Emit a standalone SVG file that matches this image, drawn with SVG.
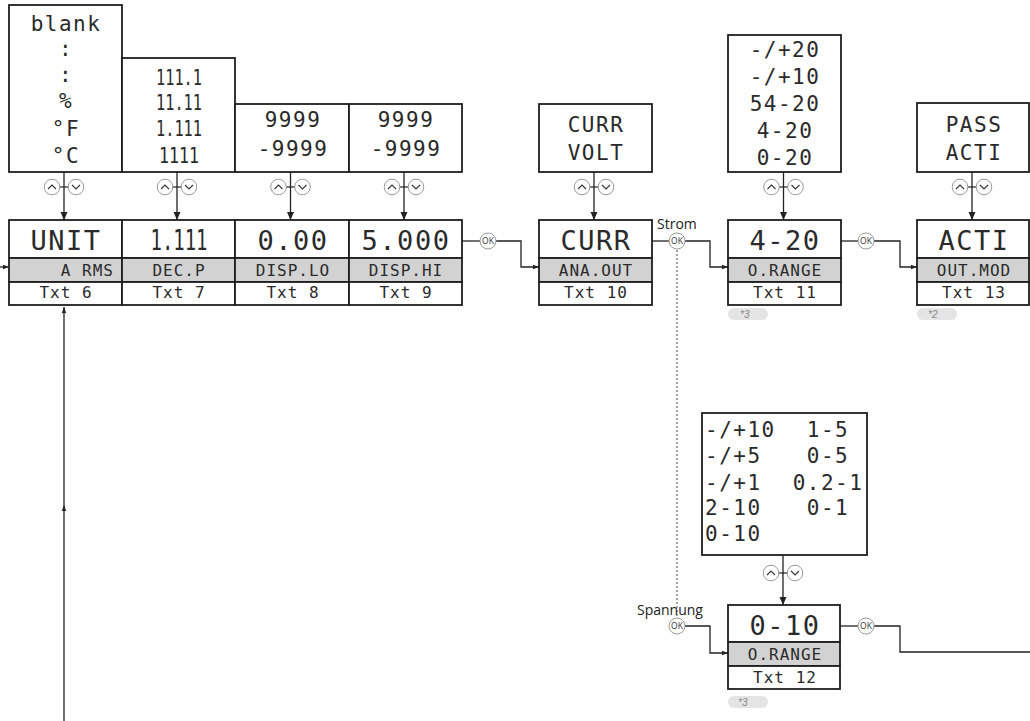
<svg xmlns="http://www.w3.org/2000/svg" width="1030" height="721" viewBox="0 0 1030 721">
<style>
.bx{fill:#fff;stroke:#1e1e1e;stroke-width:1.8}
.gb{fill:#d2d2d2;stroke:#1e1e1e;stroke-width:1.8}
.lcd{font-family:"DejaVu Sans Mono","Liberation Mono",monospace;fill:#2a2a2a;text-anchor:middle}
.big{font-size:27px;letter-spacing:1.5px}
.opt{font-size:21px;letter-spacing:1.5px}
.sm{font-size:16px;letter-spacing:1px}
.lbl{font-family:"Open Sans","Liberation Sans",sans-serif;font-size:14px;fill:#222}
.conn{stroke:#222;stroke-width:1.3;fill:none}
.dot{stroke:#666;stroke-width:1.2;stroke-dasharray:2 2;fill:none}
.btn{fill:#fff;stroke:#9a9a9a;stroke-width:1}
.chev{fill:none;stroke:#333;stroke-width:1.1}
.oktx{font-family:"Open Sans","Liberation Sans",sans-serif;font-size:8.5px;fill:#333;text-anchor:middle}
.badge{fill:#e4e4e4}
.btx{font-family:"Liberation Sans",sans-serif;font-size:10px;font-style:italic;fill:#888}
</style>
<defs>
<marker id="ah" markerWidth="8" markerHeight="8" refX="8" refY="4" orient="auto" markerUnits="userSpaceOnUse">
<path d="M0,0.5 L8,4 L0,7.5 Z" fill="#222"/>
</marker>
<marker id="as" markerWidth="6" markerHeight="6" refX="6" refY="3" orient="auto" markerUnits="userSpaceOnUse">
<path d="M0,0.8 L6,3 L0,5.2 Z" fill="#222"/>
</marker>
<g id="ud">
<line x1="-4.5" y1="0" x2="4.5" y2="0" stroke="#222" stroke-width="1.2"/>
<circle class="btn" cx="-12" cy="0" r="7.8"/>
<path class="chev" d="M-16,2 L-12,-2 L-8,2"/>
<circle class="btn" cx="12" cy="0" r="7.8"/>
<path class="chev" d="M8,-2 L12,2 L16,-2"/>
</g>
<g id="ok">
<circle class="btn" cx="0" cy="0" r="8"/>
<text class="oktx" x="0" y="3">OK</text>
</g>
</defs>

<g id="connectors">
<path class="conn" d="M0,267 H9" marker-end="url(#as)"/>
<path class="conn" d="M64,721 V505" marker-end="url(#as)"/>
<path class="conn" d="M64,505 V307" marker-end="url(#as)"/>
<path class="conn" d="M64,172 V220" marker-end="url(#ah)"/>
<path class="conn" d="M177,172 V220" marker-end="url(#ah)"/>
<path class="conn" d="M290.5,172 V220" marker-end="url(#ah)"/>
<path class="conn" d="M404,172 V220" marker-end="url(#ah)"/>
<path class="conn" d="M594,172 V220" marker-end="url(#ah)"/>
<path class="conn" d="M783.5,172 V220" marker-end="url(#ah)"/>
<path class="conn" d="M972,172 V220" marker-end="url(#ah)"/>
<path class="conn" d="M783,555 V605" marker-end="url(#ah)"/>
<path class="conn" d="M462,241 H480"/>
<path class="conn" d="M496,241 H521 V267 H539" marker-end="url(#as)"/>
<path class="conn" d="M652,241 H669"/>
<path class="conn" d="M685,241 H710 V267 H728" marker-end="url(#as)"/>
<path class="conn" d="M841,241 H858"/>
<path class="conn" d="M874,241 H900 V267 H917" marker-end="url(#as)"/>
<path class="dot" d="M677,250 V617"/>
<path class="conn" d="M685,626 H710 V653 H728" marker-end="url(#as)"/>
<path class="conn" d="M840,626 H858"/>
<path class="conn" d="M874,626 H900 V652 H1030"/>
<use href="#ud" x="64" y="187"/>
<use href="#ud" x="177" y="187"/>
<use href="#ud" x="290.5" y="187"/>
<use href="#ud" x="404" y="187"/>
<use href="#ud" x="594" y="187"/>
<use href="#ud" x="783.5" y="187"/>
<use href="#ud" x="972" y="187"/>
<use href="#ud" x="783" y="573"/>
<use href="#ok" x="488" y="241"/>
<use href="#ok" x="677" y="241"/>
<use href="#ok" x="866" y="241"/>
<use href="#ok" x="677" y="626"/>
<use href="#ok" x="866" y="626"/>
<text class="lbl" x="657" y="229">Strom</text>
<text class="lbl" x="637" y="615">Spannung</text>
</g>

<g id="n-unit">
<rect class="bx" x="9" y="5" width="113" height="167"/>
<text class="lcd opt" x="66" y="31">blank</text>
<text class="lcd opt" x="66" y="56">:</text>
<text class="lcd opt" x="66" y="82">:</text>
<text class="lcd opt" x="66" y="108">%</text>
<text class="lcd opt" x="66" y="136">°F</text>
<text class="lcd opt" x="66" y="163">°C</text>
<rect class="bx" x="9" y="220" width="113" height="38"/>
<rect class="gb" x="9" y="258" width="113" height="24"/>
<rect class="bx" x="9" y="282" width="113" height="23"/>
<text class="lcd big" x="66" y="250">UNIT</text>
<text class="lcd sm" x="114" y="276" style="text-anchor:end">A RMS</text>
<text class="lcd sm" x="66" y="298">Txt 6</text>
</g>

<g id="n-decp">
<rect class="bx" x="122" y="58" width="113" height="114"/>
<text class="lcd" x="179" y="85" font-size="21" textLength="46" lengthAdjust="spacingAndGlyphs">111.1</text>
<text class="lcd" x="179" y="110" font-size="21" textLength="46" lengthAdjust="spacingAndGlyphs">11.11</text>
<text class="lcd" x="179" y="136" font-size="21" textLength="46" lengthAdjust="spacingAndGlyphs">1.111</text>
<text class="lcd" x="179" y="163" font-size="21" textLength="40" lengthAdjust="spacingAndGlyphs">1111</text>
<rect class="bx" x="122" y="220" width="113" height="38"/>
<rect class="gb" x="122" y="258" width="113" height="24"/>
<rect class="bx" x="122" y="282" width="113" height="23"/>
<text class="lcd" x="179" y="250" font-size="28" textLength="57" lengthAdjust="spacingAndGlyphs">1.111</text>
<text class="lcd sm" x="179" y="276">DEC.P</text>
<text class="lcd sm" x="179" y="298">Txt 7</text>
</g>

<g id="n-displo">
<rect class="bx" x="235" y="104" width="114" height="68"/>
<text class="lcd opt" x="293" y="127">9999</text>
<text class="lcd opt" x="293" y="156">-9999</text>
<rect class="bx" x="235" y="220" width="114" height="38"/>
<rect class="gb" x="235" y="258" width="114" height="24"/>
<rect class="bx" x="235" y="282" width="114" height="23"/>
<text class="lcd big" x="293" y="250">0.00</text>
<text class="lcd sm" x="293" y="276">DISP.LO</text>
<text class="lcd sm" x="293" y="298">Txt 8</text>
</g>

<g id="n-disphi">
<rect class="bx" x="349" y="104" width="113" height="68"/>
<text class="lcd opt" x="406" y="127">9999</text>
<text class="lcd opt" x="406" y="156">-9999</text>
<rect class="bx" x="349" y="220" width="113" height="38"/>
<rect class="gb" x="349" y="258" width="113" height="24"/>
<rect class="bx" x="349" y="282" width="113" height="23"/>
<text class="lcd big" x="406" y="250">5.000</text>
<text class="lcd sm" x="406" y="276">DISP.HI</text>
<text class="lcd sm" x="406" y="298">Txt 9</text>
</g>

<g id="n-anaout">
<rect class="bx" x="539" y="104" width="113" height="68"/>
<text class="lcd opt" x="596" y="132">CURR</text>
<text class="lcd opt" x="596" y="160">VOLT</text>
<rect class="bx" x="539" y="220" width="113" height="38"/>
<rect class="gb" x="539" y="258" width="113" height="24"/>
<rect class="bx" x="539" y="282" width="113" height="23"/>
<text class="lcd big" x="596" y="250">CURR</text>
<text class="lcd sm" x="596" y="276">ANA.OUT</text>
<text class="lcd sm" x="596" y="298">Txt 10</text>
</g>

<g id="n-orange11">
<rect class="bx" x="728" y="35" width="113" height="137"/>
<text class="lcd opt" x="785" y="57">-/+20</text>
<text class="lcd opt" x="785" y="84">-/+10</text>
<text class="lcd opt" x="785" y="111">54-20</text>
<text class="lcd opt" x="785" y="138">4-20</text>
<text class="lcd opt" x="785" y="165">0-20</text>
<rect class="bx" x="728" y="220" width="113" height="38"/>
<rect class="gb" x="728" y="258" width="113" height="24"/>
<rect class="bx" x="728" y="282" width="113" height="23"/>
<text class="lcd big" x="785" y="250">4-20</text>
<text class="lcd sm" x="785" y="276">O.RANGE</text>
<text class="lcd sm" x="785" y="298">Txt 11</text>
<path class="badge" d="M734,308 H762 a6,6 0 0 1 0,12 H734 a6,6 0 0 1 0,-12 Z"/>
<text class="btx" x="740" y="318">*3</text>
</g>

<g id="n-outmod">
<rect class="bx" x="917" y="103" width="112" height="69"/>
<text class="lcd opt" x="974" y="132">PASS</text>
<text class="lcd opt" x="974" y="160">ACTI</text>
<rect class="bx" x="917" y="220" width="112" height="38"/>
<rect class="gb" x="917" y="258" width="112" height="24"/>
<rect class="bx" x="917" y="282" width="112" height="23"/>
<text class="lcd big" x="974" y="250">ACTI</text>
<text class="lcd sm" x="974" y="276">OUT.MOD</text>
<text class="lcd sm" x="974" y="298">Txt 13</text>
<path class="badge" d="M923,308 H951 a6,6 0 0 1 0,12 H923 a6,6 0 0 1 0,-12 Z"/>
<text class="btx" x="928" y="318">*2</text>
</g>

<g id="n-orange12">
<rect class="bx" x="702" y="413" width="165" height="142"/>
<g class="lcd opt" style="text-anchor:start">
<text x="705" y="437">-/+10</text>
<text x="705" y="463">-/+5</text>
<text x="705" y="490">-/+1</text>
<text x="705" y="515">2-10</text>
<text x="705" y="541">0-10</text>
</g>
<text class="lcd opt" x="828" y="437">1-5</text>
<text class="lcd opt" x="828" y="463">0-5</text>
<text class="lcd opt" x="828" y="490">0.2-1</text>
<text class="lcd opt" x="828" y="515">0-1</text>
<rect class="bx" x="728" y="605" width="112" height="37"/>
<rect class="gb" x="728" y="642" width="112" height="24"/>
<rect class="bx" x="728" y="666" width="112" height="23"/>
<text class="lcd big" x="785" y="635">0-10</text>
<text class="lcd sm" x="785" y="660">O.RANGE</text>
<text class="lcd sm" x="785" y="683">Txt 12</text>
<path class="badge" d="M734,696 H762 a6,6 0 0 1 0,12 H734 a6,6 0 0 1 0,-12 Z"/>
<text class="btx" x="738" y="706">*3</text>
</g>
</svg>
